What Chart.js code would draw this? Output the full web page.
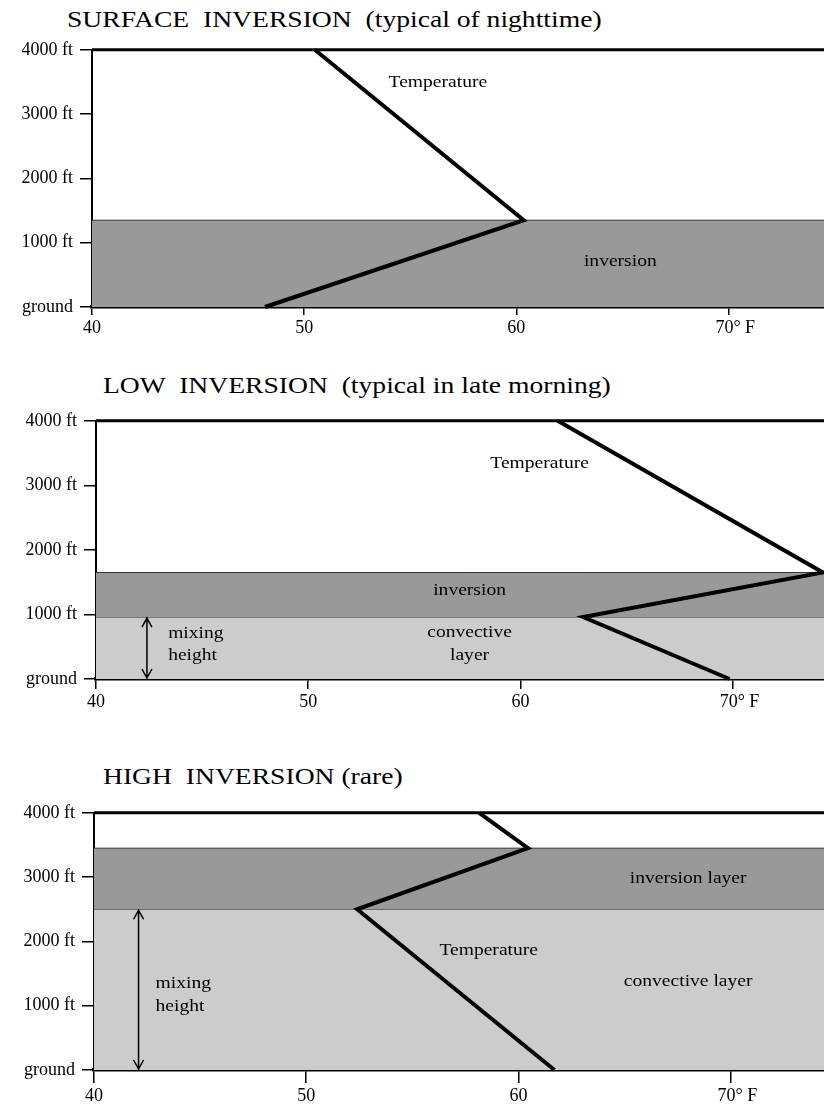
<!DOCTYPE html>
<html lang="en">
<head>
  <meta charset="utf-8">
  <title>Temperature inversions</title>
  <script src="https://cdn.jsdelivr.net/npm/chart.js"></script>
  <style>
    body { margin: 0; background: #fff; }
    .titulo { position: absolute; font: 23px "Liberation Serif", serif; line-height: 1; white-space: pre; color: #000;
              transform: scaleX(1.2); transform-origin: 0 50%; }
    canvas { position: absolute; left: 0; }
  </style>
</head>
<body>
  <div class="titulo" style="left:67px;top:8px">SURFACE  INVERSION  (typical of nighttime)</div>
  <canvas id="g1" width="824" height="308" style="top:32px"></canvas>

  <div class="titulo" style="left:103px;top:374px">LOW  INVERSION  (typical in late morning)</div>
  <canvas id="g2" width="824" height="309" style="top:403px"></canvas>

  <div class="titulo" style="left:103px;top:765px">HIGH  INVERSION (rare)</div>
  <canvas id="g3" width="824" height="312" style="top:795px"></canvas>

<script>
  const tempTicks = [40, 50, 60, 70];
  const heightTicks = [0, 1000, 2000, 3000, 4000];

  // surface inversion
  const surfaceTemp = [48.15, 60.35, 50.5];
  const surfaceHeight = [0, 1350, 4000];
  const surfaceInversion = [0, 1350];

  // low inversion
  const lowTemp = [69.85, 62.95, 74.25, 61.75];
  const lowHeight = [0, 960, 1650, 4000];
  const lowConvective = [0, 960];
  const lowInversion = [960, 1650];

  // high inversion
  const highTemp = [61.7, 52.4, 60.45, 58.15];
  const highHeight = [0, 2500, 3450, 4000];
  const highConvective = [0, 2500];
  const highInversion = [2500, 3450];

  const OSCURO = '#999999';
  const CLARO = '#cccccc';
  const serif = 'Liberation Serif';

  const pts = (xs, ys) => xs.map((x, i) => ({x: x, y: ys[i]}));

  function capa(layer, xMax, color) {
    return {
      data: [{x: 40, y: layer[1]}, {x: xMax, y: layer[1]}],
      fill: {value: layer[0]},
      backgroundColor: color,
      borderColor: '#333',
      borderWidth: 1,
      pointRadius: 0
    };
  }

  // texts and arrows placed on the chart's own scales
  const notas = {
    id: 'notas',
    afterDatasetsDraw(chart, args, opts) {
      const ctx = chart.ctx, x = chart.scales.x, y = chart.scales.y;
      ctx.save();
      ctx.fillStyle = '#000';
      ctx.font = '17px "' + serif + '"';
      ctx.textBaseline = 'middle';
      (opts.labels || []).forEach(l => {
        ctx.save();
        ctx.translate(x.getPixelForValue(l.x), y.getPixelForValue(l.y));
        ctx.scale(1.15, 1);
        ctx.textAlign = l.align || 'center';
        ctx.fillText(l.text, 0, 0);
        ctx.restore();
      });
      (opts.arrows || []).forEach(a => {
        const px = x.getPixelForValue(a.x);
        const top = y.getPixelForValue(a.to);
        const bot = y.getPixelForValue(a.from);
        ctx.strokeStyle = '#000';
        ctx.lineWidth = 1.5;
        ctx.beginPath();
        ctx.moveTo(px, top); ctx.lineTo(px, bot);
        ctx.moveTo(px - 5, top + 10); ctx.lineTo(px, top + 1); ctx.lineTo(px + 5, top + 10);
        ctx.moveTo(px - 5, bot - 10); ctx.lineTo(px, bot - 1); ctx.lineTo(px + 5, bot - 10);
        ctx.stroke();
      });
      ctx.restore();
    }
  };

  function grafica(id, cfg) {
    // first dataset is painted last (on top)
    const datasets = [{
      data: cfg.temp,
      borderColor: '#000', borderWidth: 4, pointRadius: 0, fill: false, clip: false,
      borderJoinStyle: 'miter'
    }, {
      data: [{x: 40, y: 4000}, {x: cfg.xMax, y: 4000}],
      borderColor: '#000', borderWidth: 3, pointRadius: 0, fill: false, clip: false
    }].concat(cfg.capas);

    return new Chart(document.getElementById(id), {
      type: 'line',
      data: {datasets: datasets},
      options: {
        responsive: false,
        animation: false,
        layout: {padding: {top: 11, right: 0, left: 0, bottom: 0}},
        plugins: {
          legend: {display: false},
          tooltip: {enabled: false},
          notas: {labels: cfg.labels, arrows: cfg.arrows}
        },
        scales: {
          x: {
            type: 'linear', min: 40, max: cfg.xMax, z: 1,
            afterBuildTicks: s => { s.ticks = tempTicks.map(v => ({value: v})); },
            afterFit: s => { s.height = cfg.axisH; },
            grid: {drawOnChartArea: false, tickLength: cfg.tickLen, color: '#000', lineWidth: 1.5},
            border: {color: '#000', width: 3.5},
            ticks: {
              color: '#000', padding: 2, maxRotation: 0, autoSkip: false,
              font: {family: serif, size: 18},
              callback: v => v === 70 ? '   70° F' : v
            }
          },
          y: {
            type: 'linear', min: 0, max: 4000, z: 1,
            afterBuildTicks: s => { s.ticks = heightTicks.map(v => ({value: v})); },
            afterFit: s => { s.width = cfg.left; },
            grid: {drawOnChartArea: false, tickLength: 12, color: '#000', lineWidth: 1.5},
            border: {color: '#000', width: 2},
            ticks: {
              color: '#000', padding: 7,
              font: {family: serif, size: 18},
              callback: v => v === 0 ? 'ground' : v + ' ft'
            }
          }
        }
      },
      plugins: [notas]
    });
  }

  grafica('g1', {
    xMax: 74.5, left: 92, axisH: 33, tickLen: 8,
    capas: [capa(surfaceInversion, 74.5, OSCURO)],
    temp: pts(surfaceTemp, surfaceHeight),
    labels: [
      {text: 'Temperature', x: 56.3, y: 3490},
      {text: 'inversion', x: 64.9, y: 710}
    ]
  });

  grafica('g2', {
    xMax: 74.3, left: 96, axisH: 33, tickLen: 10,
    capas: [capa(lowInversion, 74.3, OSCURO), capa(lowConvective, 74.3, CLARO)],
    temp: pts(lowTemp, lowHeight),
    labels: [
      {text: 'Temperature', x: 60.9, y: 3340},
      {text: 'inversion', x: 57.6, y: 1370},
      {text: 'convective', x: 57.6, y: 720},
      {text: 'layer', x: 57.6, y: 370},
      {text: 'mixing', x: 43.4, y: 710, align: 'left'},
      {text: 'height', x: 43.4, y: 370, align: 'left'}
    ],
    arrows: [{x: 42.4, from: 0, to: 960}]
  });

  grafica('g3', {
    xMax: 74.4, left: 94, axisH: 37, tickLen: 13,
    capas: [capa(highInversion, 74.4, OSCURO), capa(highConvective, 74.4, CLARO)],
    temp: pts(highTemp, highHeight),
    labels: [
      {text: 'inversion layer', x: 68.0, y: 2980},
      {text: 'Temperature', x: 58.6, y: 1860},
      {text: 'convective layer', x: 68.0, y: 1380},
      {text: 'mixing', x: 42.9, y: 1350, align: 'left'},
      {text: 'height', x: 42.9, y: 980, align: 'left'}
    ],
    arrows: [{x: 42.1, from: 0, to: 2500}]
  });
</script>
</body>
</html>
